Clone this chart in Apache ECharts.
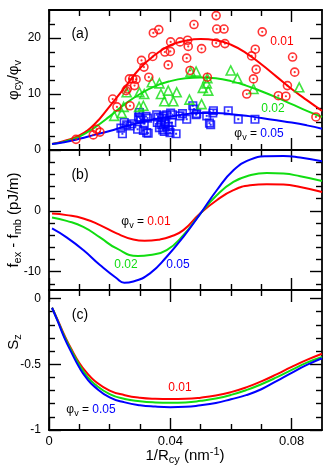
<!DOCTYPE html>
<html>
<head>
<meta charset="utf-8">
<script src="https://cdn.jsdelivr.net/npm/echarts@6/dist/echarts.min.js"></script>
<style>
* { margin: 0; padding: 0; }
#chart-container { width: 325px; height: 466px; background: #fff; }
</style>
</head>
<body>
<div id="chart-container"></div>
<script>
// shared x axis (1/Rcy, nm^-1)
const xMajor = [0, 0.04, 0.08];
const xMinor = [0.01, 0.02, 0.03, 0.05, 0.06, 0.07];

// (a) phi_cy / phi_v
const aMajor = [0, 10, 20];
const aMinor = [2.5, 5, 7.5, 12.5, 15, 17.5, 22.5];
const xCurveA = [0.001, 0.005, 0.01, 0.015, 0.02, 0.025, 0.03, 0.035, 0.04, 0.045, 0.05, 0.055, 0.06, 0.065, 0.07, 0.075, 0.08, 0.085, 0.09];
const redA = [1.07, 1.6, 2.6, 4.6, 7.8, 11.2, 14.6, 17.0, 18.7, 19.5, 19.8, 19.6, 18.8, 17.3, 15.3, 13.1, 10.9, 8.9, 7.0];
const greenA = [1.07, 1.5, 2.4, 4.0, 6.0, 8.2, 10.0, 11.4, 12.3, 12.8, 12.95, 12.8, 12.3, 11.5, 10.5, 9.4, 8.2, 7.0, 5.9];
const blueA = [1.07, 1.4, 2.0, 2.7, 3.4, 4.2, 4.9, 5.5, 6.0, 6.4, 6.6, 6.6, 6.4, 6.1, 5.7, 5.3, 4.9, 4.4, 3.8];

const redCircles = [
    [0.0089, 1.9], [0.0146, 2.7], [0.0157, 3.7], [0.0168, 3.2], [0.0210, 9.1], [0.0224, 7.7],
    [0.0254, 10.6], [0.0258, 10.9], [0.0265, 12.7], [0.0276, 12.7], [0.0282, 11.5], [0.0287, 12.6],
    [0.0267, 7.9], [0.0305, 16.0], [0.0313, 14.8], [0.0329, 13.0], [0.0342, 16.7], [0.0344, 20.9],
    [0.0362, 21.5], [0.0382, 17.5], [0.0393, 15.2], [0.0400, 17.6], [0.0401, 19.3], [0.0432, 19.3],
    [0.0454, 16.4], [0.0457, 19.6], [0.0459, 18.5], [0.0465, 14.2], [0.0478, 22.4], [0.0503, 18.1],
    [0.0522, 13.0], [0.0551, 24.0], [0.0551, 19.1], [0.0553, 21.6], [0.0577, 21.6], [0.0580, 19.0],
    [0.0652, 10.0], [0.0668, 16.8], [0.0674, 12.7], [0.0680, 18.0], [0.0683, 14.4], [0.0703, 21.1],
    [0.0756, 9.7], [0.0781, 9.6], [0.0786, 11.5], [0.0803, 16.6], [0.0810, 13.9], [0.0880, 5.9]
];
const greenTriangles = [
    [0.0215, 6.1], [0.0240, 6.6], [0.0246, 7.7], [0.0256, 10.3], [0.0297, 7.7], [0.0298, 10.3],
    [0.0311, 7.9], [0.0314, 10.0], [0.0339, 12.1], [0.0364, 11.9], [0.0369, 10.0], [0.0380, 8.7],
    [0.0393, 10.6], [0.0410, 8.7], [0.0421, 10.3], [0.0463, 9.0], [0.0467, 14.0], [0.0485, 14.0],
    [0.0503, 8.2], [0.0507, 11.1], [0.0520, 11.9], [0.0522, 12.8], [0.0525, 10.6], [0.0599, 14.2],
    [0.0621, 12.8], [0.0674, 10.9], [0.0825, 11.2]
];
const blueSquares = [
    [0.0237, 3.9], [0.0242, 2.9], [0.0248, 4.9], [0.0256, 4.5], [0.0267, 4.3], [0.0273, 4.7],
    [0.0292, 3.7], [0.0295, 5.9], [0.0298, 6.7], [0.0300, 5.7], [0.0303, 5.4], [0.0311, 3.5],
    [0.0314, 4.7], [0.0320, 6.0], [0.0322, 3.1], [0.0325, 5.7], [0.0327, 3.0], [0.0355, 6.3],
    [0.0357, 4.9], [0.0360, 5.9], [0.0364, 4.0], [0.0369, 4.5], [0.0372, 5.7], [0.0375, 3.6],
    [0.0377, 6.1], [0.0380, 3.3], [0.0382, 5.1], [0.0385, 4.7], [0.0388, 6.3], [0.0393, 4.2],
    [0.0396, 3.6], [0.0399, 3.1], [0.0401, 6.6], [0.0405, 4.9], [0.0407, 6.3], [0.0419, 2.9],
    [0.0432, 6.1], [0.0440, 6.5], [0.0454, 5.5], [0.0474, 7.9], [0.0478, 7.3], [0.0485, 6.3],
    [0.0487, 6.5], [0.0520, 6.1], [0.0529, 4.8], [0.0533, 4.5], [0.0540, 6.6], [0.0542, 7.0],
    [0.0591, 7.0], [0.0624, 5.5], [0.0679, 5.5]
];

// (b) f_ex - f_mb (pJ/m)
const bMajor = [-10, 0];
const bMinor = [-12, -8, -6, -4, -2, 2, 4, 6, 8];
const xRedB = [0.001, 0.0058, 0.0113, 0.0168, 0.0223, 0.0278, 0.0315, 0.0366, 0.0399, 0.0443, 0.0498, 0.0553, 0.0608, 0.0663, 0.0718, 0.0773, 0.0828, 0.09];
const redB = [-0.45, -0.7, -1.25, -2.34, -3.7, -4.7, -4.92, -4.7, -4.26, -3.16, -0.43, 1.75, 3.4, 4.2, 4.38, 4.33, 3.93, 3.1];
const xGreenB = [0.001, 0.0058, 0.0113, 0.0168, 0.0223, 0.0293, 0.0333, 0.0388, 0.0443, 0.0498, 0.0553, 0.0608, 0.0663, 0.0718, 0.0773, 0.0828, 0.09];
const greenB = [-1.08, -1.64, -2.62, -4.36, -6.17, -7.43, -7.26, -6.44, -3.98, -0.54, 2.57, 4.75, 5.85, 6.23, 6.13, 5.69, 4.92];
const xBlueB = [0.001, 0.0058, 0.0113, 0.0168, 0.0223, 0.0248, 0.0278, 0.0333, 0.0388, 0.0443, 0.0498, 0.0553, 0.0608, 0.0663, 0.0718, 0.0773, 0.0828, 0.09];
const blueB = [-2.89, -4.36, -6.44, -8.9, -11.08, -11.8, -11.6, -10.26, -7.54, -4.26, -0.54, 3.39, 6.67, 8.43, 8.97, 9.02, 8.75, 8.15];

// (c) S_z
const cMajor = [-1, -0.5, 0];
const cMinor = [-0.9, -0.8, -0.7, -0.6, -0.4, -0.3, -0.2, -0.1];
const xCurveC = [0.001, 0.003, 0.005, 0.0075, 0.01, 0.0125, 0.015, 0.02, 0.025, 0.03, 0.035, 0.04, 0.045, 0.05, 0.055, 0.06, 0.065, 0.07, 0.075, 0.08, 0.085, 0.09];
const redC = [-0.07, -0.17, -0.275, -0.39, -0.49, -0.565, -0.625, -0.7, -0.735, -0.755, -0.763, -0.765, -0.763, -0.754, -0.738, -0.712, -0.676, -0.63, -0.577, -0.52, -0.467, -0.42];
const greenC = [-0.07, -0.175, -0.285, -0.4, -0.505, -0.59, -0.65, -0.727, -0.764, -0.781, -0.79, -0.793, -0.79, -0.778, -0.76, -0.733, -0.697, -0.652, -0.6, -0.543, -0.488, -0.445];
const blueC = [-0.07, -0.18, -0.295, -0.415, -0.525, -0.61, -0.67, -0.752, -0.79, -0.812, -0.822, -0.826, -0.824, -0.812, -0.794, -0.766, -0.735, -0.69, -0.628, -0.565, -0.505, -0.454];

const RED = '#ff0000', GREEN = '#11dd11', BLUE = '#0000ff';
const FONT = 'Liberation Sans';

const dom = document.getElementById('chart-container');
const myChart = echarts.init(dom, null, { renderer: 'canvas' });

const frameLine = { color: '#000', width: 1.8 };
const tickLine = { color: '#000', width: 1.4 };

function axisSide(base, pos, ticks, len, line, labels) {
    return Object.assign({}, base, {
        position: pos,
        splitLine: { show: false },
        axisLine: { show: line, onZero: false, lineStyle: frameLine },
        axisTick: { show: true, inside: true, length: len, customValues: ticks, lineStyle: tickLine },
        axisLabel: labels
            ? Object.assign({ show: true, color: '#000', fontFamily: FONT }, labels)
            : { show: false }
    });
}

function xAxes(g, withLabels) {
    const base = { type: 'value', gridIndex: g, min: 0, max: 0.09 };
    const lab = withLabels ? { customValues: xMajor, fontSize: 13, margin: 5 } : null;
    return [
        axisSide(base, 'bottom', xMajor, 12, true, lab),
        axisSide(base, 'bottom', xMinor, 6, false, null),
        axisSide(base, 'top', xMajor, 12, true, null),
        axisSide(base, 'top', xMinor, 6, false, null)
    ];
}

function yAxes(g, min, max, major, minor) {
    const base = { type: 'value', gridIndex: g, min: min, max: max };
    const lab = { customValues: major, fontSize: 12, margin: 8 };
    return [
        axisSide(base, 'left', major, 12, true, lab),
        axisSide(base, 'left', minor, 6, false, null),
        axisSide(base, 'right', major, 12, true, null),
        axisSide(base, 'right', minor, 6, false, null)
    ];
}

function curve(g, xs, ys, color) {
    return {
        type: 'line', xAxisIndex: 4 * g, yAxisIndex: 4 * g,
        data: xs.map((x, i) => [x, ys[i]]),
        showSymbol: false, smooth: 0.5, z: 3,
        lineStyle: { color: color, width: 2 }, itemStyle: { color: color }
    };
}

function marks(data, symbol, size, color, filled) {
    return {
        type: 'scatter', xAxisIndex: 0, yAxisIndex: 0, data: data,
        symbol: symbol, symbolSize: size, z: 4,
        itemStyle: filled
            ? { color: color }
            : { color: 'rgba(0,0,0,0)', borderColor: color, borderWidth: 1.6 }
    };
}

const rich = {
    n: { fontSize: 12, fontFamily: FONT, fill: '#000', lineHeight: 16 },
    s: { fontSize: 9, fontFamily: FONT, fill: '#000', lineHeight: 9, verticalAlign: 'bottom' },
    r: { fontSize: 12, fontFamily: FONT, fill: RED, lineHeight: 16 },
    g: { fontSize: 12, fontFamily: FONT, fill: GREEN, lineHeight: 16 },
    b: { fontSize: 12, fontFamily: FONT, fill: BLUE, lineHeight: 16 },
    p: { fontSize: 14, fontFamily: FONT, fill: '#000', lineHeight: 18 },
    t: { fontSize: 15, fontFamily: FONT, fill: '#000', lineHeight: 19 },
    ts: { fontSize: 11, fontFamily: FONT, fill: '#000', lineHeight: 11, verticalAlign: 'bottom' },
    tp: { fontSize: 11, fontFamily: FONT, fill: '#000', lineHeight: 11, verticalAlign: 'top' }
};

function label(x, y, text, rot) {
    return {
        type: 'text', x: x, y: y, rotation: rot || 0, z: 10,
        style: { text: text, rich: rich, align: 'center', verticalAlign: 'middle' }
    };
}

const option = {
    animation: false,
    backgroundColor: '#fff',
    grid: [
        { left: 49, right: 3, top: 10, height: 140, outerBoundsMode: 'none' },
        { left: 49, right: 3, top: 150, height: 140, outerBoundsMode: 'none' },
        { left: 49, right: 3, top: 290, height: 140, outerBoundsMode: 'none' }
    ],
    xAxis: [].concat(xAxes(0, false), xAxes(1, false), xAxes(2, true)),
    yAxis: [].concat(
        yAxes(0, 0, 25, aMajor, aMinor),
        yAxes(1, -13, 10, bMajor, bMinor),
        yAxes(2, -1, 0.065, cMajor, cMinor)
    ),
    series: [
        marks(blueSquares, 'rect', 7.5, BLUE, false),
        marks(blueSquares, 'rect', 2, BLUE, true),
        marks(greenTriangles, 'triangle', 9, GREEN, false),
        marks(redCircles, 'circle', 8, RED, false),
        marks(redCircles, 'circle', 2.2, RED, true),
        curve(0, xCurveA, redA, RED),
        curve(0, xCurveA, greenA, GREEN),
        curve(0, xCurveA, blueA, BLUE),
        curve(1, xRedB, redB, RED),
        curve(1, xGreenB, greenB, GREEN),
        curve(1, xBlueB, blueB, BLUE),
        curve(2, xCurveC, redC, RED),
        curve(2, xCurveC, greenC, GREEN),
        curve(2, xCurveC, blueC, BLUE)
    ],
    graphic: [
        // axis titles
        label(14, 80, '{t|φ}{ts|cy}{t|/φ}{ts|v}', Math.PI / 2),
        label(14, 220, '{t|f}{ts|ex}{t| - f}{ts|mb}{t| (pJ/m)}', Math.PI / 2),
        label(14, 342, '{t|S}{ts|z}', Math.PI / 2),
        label(185, 456, '{t|1/R}{ts|cy}{t| (nm}{tp|-1}{t|)}'),
        // panel tags
        label(80, 34, '{p|(a)}'),
        label(80, 175, '{p|(b)}'),
        label(80, 315, '{p|(c)}'),
        // series notes
        label(282, 42, '{r|0.01}'),
        label(273, 109, '{g|0.02}'),
        label(259, 134, '{n|φ}{s|v}{n| = }{b|0.05}'),
        label(146, 222, '{n|φ}{s|v}{n| = }{r|0.01}'),
        label(126, 265, '{g|0.02}'),
        label(178, 265, '{b|0.05}'),
        label(180, 388, '{r|0.01}'),
        label(91, 410, '{n|φ}{s|v}{n| = }{b|0.05}')
    ]
};

myChart.setOption(option);
window.addEventListener('resize', () => {
    myChart.resize();
});
</script>
</body>
</html>
